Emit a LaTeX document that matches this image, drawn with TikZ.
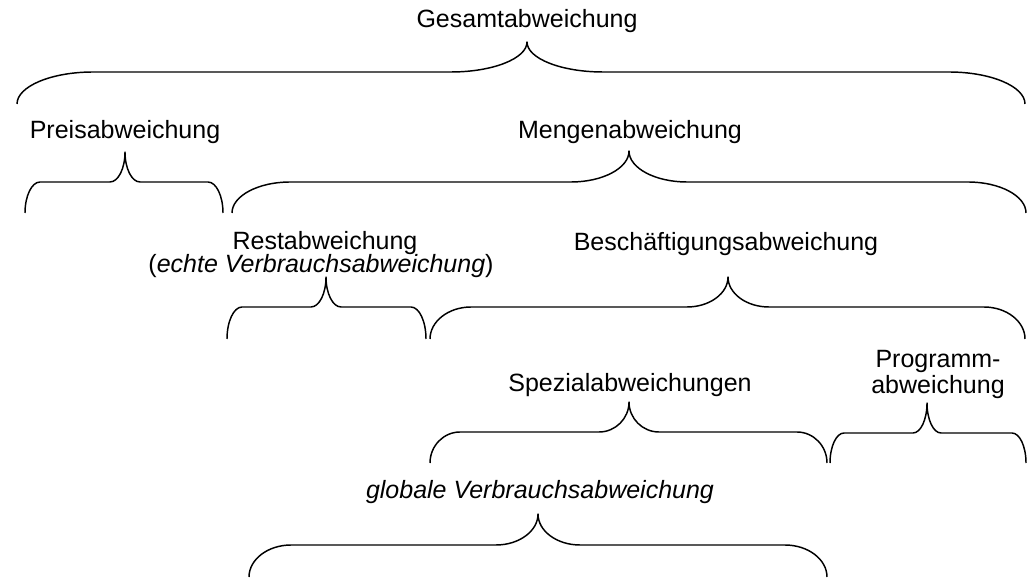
\documentclass[tikz,border=0pt]{standalone}
\usepackage{fontspec}
\setmainfont{Liberation Sans}
\tikzset{
  lab/.style={anchor=base, inner sep=0pt, font=\fontsize{18.75}{18.75}\selectfont},
  br/.style={line width=1.1pt, line join=round, line cap=butt}
}
% x0 x1 xt tip flat bottom r
\newcommand\cbrace[7]{%
  \draw[br] (#1,#6) .. controls (#1,{#6-0.55*(#6-#5)}) and ({#1+0.45*#7},#5) .. ({#1+#7},#5)
    -- ({#3-#7},#5) .. controls ({#3-0.45*#7},#5) and (#3,{#5-0.45*(#5-#4)}) .. (#3,#4)
    .. controls (#3,{#5-0.45*(#5-#4)}) and ({#3+0.45*#7},#5) .. ({#3+#7},#5)
    -- ({#2-#7},#5) .. controls ({#2-0.45*#7},#5) and (#2,{#6-0.55*(#6-#5)}) .. (#2,#6);}
\begin{document}
\begin{tikzpicture}[x=0.75pt,y=-0.75pt]
  \fill[white] (0,0) rectangle (1034,580);
  \useasboundingbox (0,0) rectangle (1034,580);
  % labels
  \node[lab] (gesamt) at (527,28) {Gesamtabweichung};
  \node[lab] (preis) at (125,139) {Preisabweichung};
  \node[lab] (menge) at (630,139) {Mengenabweichung};
  \node[lab] (rest) at (325,250) {Restabweichung};
  \node[lab] (echte) at (321,273) {(\textit{echte Verbrauchsabweichung})};
  \node[lab] (besch) at (726,251) {Besch\"aftigungsabweichung};
  \node[lab] (spez) at (630,392) {Spezialabweichungen};
  \node[lab] (prog1) at (938,368) {Programm-};
  \node[lab] (prog2) at (938,393) {abweichung};
  \node[lab] (global) at (540,498) {\textit{globale Verbrauchsabweichung}};
  % braces
  \cbrace{17}{1025}{527}{42}{72}{104}{76}
  \cbrace{25}{223}{125}{152}{182}{213}{15}
  \cbrace{232}{1026}{629}{151}{182}{213}{58}
  \cbrace{227}{426}{326}{277}{307}{339}{15}
  \cbrace{430}{1025}{728}{277}{307}{339}{41}
  \cbrace{430}{827}{629}{402}{432}{463}{30}
  \cbrace{830}{1026}{927}{403}{433}{463}{14}
  \cbrace{249}{827}{538}{514}{545}{577}{42}
\end{tikzpicture}
\end{document}
